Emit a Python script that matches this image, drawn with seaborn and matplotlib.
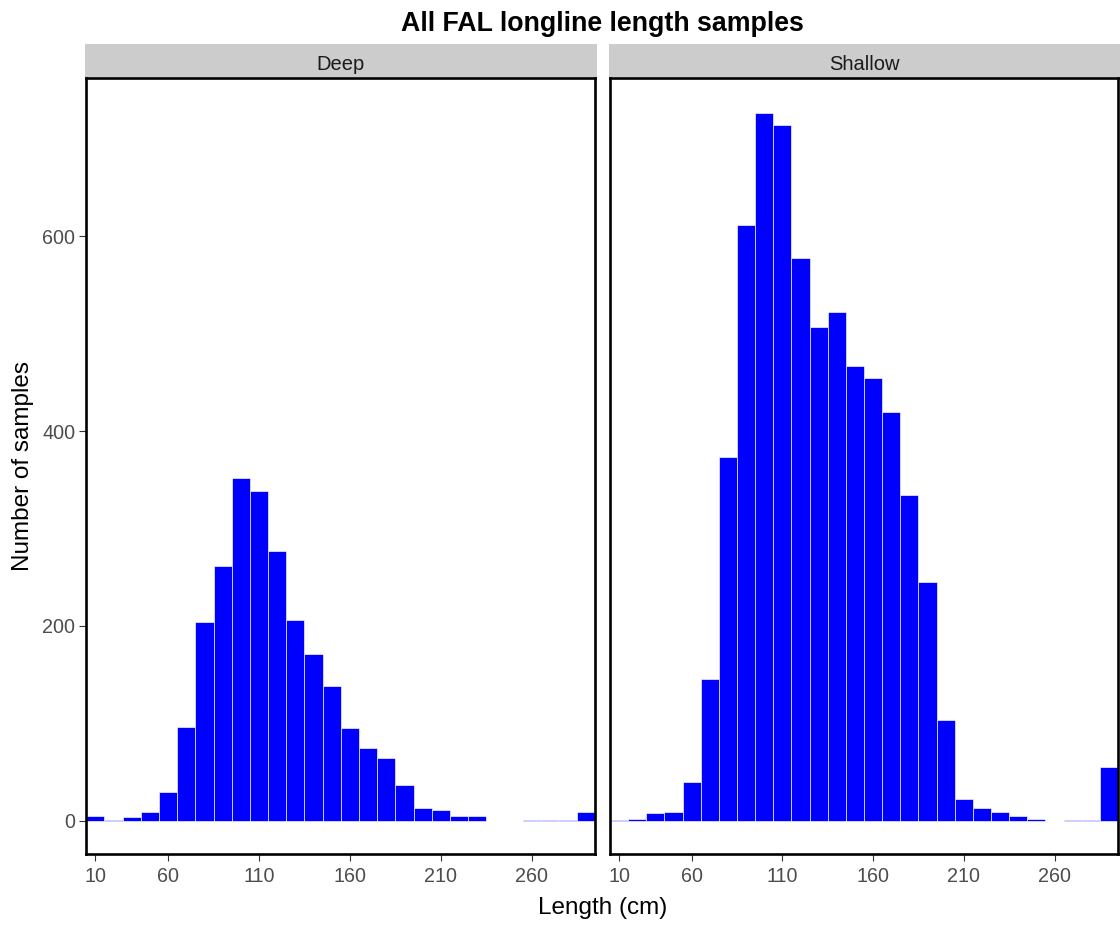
import numpy as np
import pandas as pd
import matplotlib
matplotlib.use("Agg")
import matplotlib.pyplot as plt
import seaborn as sns
from matplotlib.patches import Rectangle

# ---------------- data ----------------
bin_centers = [20, 30, 40, 50, 60, 70, 80, 90, 100, 110, 120, 130, 140, 150,
               160, 170, 180, 190, 200, 210, 220, 230, 240, 250, 260, 270, 280, 290]
deep_counts = [5, 1, 4, 9, 30, 96, 204, 261, 352, 338, 277, 206, 171, 138,
               95, 75, 64, 37, 13, 11, 5, 5, 0, 0, 1, 1, 1, 9]
shallow_counts = [1, 2, 8, 9, 40, 145, 373, 611, 726, 714, 578, 507, 522, 467,
                  454, 420, 334, 245, 103, 22, 13, 9, 5, 2, 0, 1, 1, 55]
panels = ["Deep", "Shallow"]
x_tick_labels = ["10", "60", "110", "160", "210", "260"]
x_tick_pos = [20, 60, 110, 160, 210, 260]
y_ticks = [0, 200, 400, 600]
title = "All FAL longline length samples"
xlabel = "Length (cm)"
ylabel = "Number of samples"

df = pd.DataFrame({
    "length": bin_centers * 2,
    "count": deep_counts + shallow_counts,
    "depth": ["Deep"] * len(bin_centers) + ["Shallow"] * len(bin_centers),
})
bin_width = 10
bin_lo = min(bin_centers) - bin_width / 2
bin_hi = max(bin_centers) + bin_width / 2

# ---------------- style ----------------
sns.set_theme(style="ticks")
plt.rcParams['font.family'] = ['Liberation Sans', 'DejaVu Sans']

W, H = 1120, 925
fig = plt.figure(figsize=(W / 100, H / 100), dpi=100)


def fx(px):
    return px / W


def fy(py):
    return 1 - py / H


top_px, bottom_px = 78, 854
axes_px = [(86.3, 595.3), (610.0, 1118.0)]
ymax = max(max(deep_counts), max(shallow_counts))
ylim = (-0.047 * ymax, 1.05 * ymax)
xlim = (bin_lo, bin_hi)

first_ax = None
for name, (x0, x1) in zip(panels, axes_px):
    ax = fig.add_axes([fx(x0), fy(bottom_px), fx(x1) - fx(x0), fy(top_px) - fy(bottom_px)],
                      sharey=first_ax)
    sub = df[df["depth"] == name]
    sns.histplot(data=sub, x="length", weights="count", binwidth=bin_width,
                 binrange=(bin_lo, bin_hi),
                 color="#0000FF", edgecolor="white", linewidth=0.45, alpha=1, ax=ax)
    ax.set_xlim(*xlim)
    ax.set_ylim(*ylim)
    ax.set_xlabel("")
    ax.set_ylabel("")
    ax.set_xticks(x_tick_pos)
    ax.set_xticklabels(x_tick_labels)
    ax.grid(False)
    for sp in ax.spines.values():
        sp.set_visible(True)
        sp.set_color("black")
        sp.set_linewidth(1.9)
    ax.tick_params(axis="both", direction="out", length=5, width=0.8,
                   color="#333333", labelsize=14.2, labelcolor="#4D4D4D")
    ax.tick_params(axis="x", pad=4.5, bottom=True)
    if first_ax is None:
        ax.set_yticks(y_ticks)
        ax.tick_params(axis="y", pad=3, left=True)
        first_ax = ax
    else:
        ax.tick_params(axis="y", left=False, labelleft=False)

    # facet strip
    fig.patches.append(Rectangle((fx(x0 - 1.5), fy(76.7)), fx(x1 - x0 + 3), fy(44.3) - fy(76.7),
                                 transform=fig.transFigure, facecolor="#CCCCCC",
                                 edgecolor="none", zorder=0))
    fig.text(fx((x0 + x1) / 2), fy(70.5), name, ha="center", va="baseline",
             fontsize=14.5, color="#1A1A1A")

center_x = (axes_px[0][0] + axes_px[1][1]) / 2
fig.text(fx(center_x), fy(30.7), title, ha="center", va="baseline",
         fontsize=19.3, fontweight="bold", color="black")
fig.text(fx(center_x), fy(914), xlabel, ha="center", va="baseline",
         fontsize=17.5, color="black")
fig.text(fx(23), fy((top_px + bottom_px) / 2), ylabel, ha="center", va="center",
         rotation=90, fontsize=17.5, color="black")

fig.savefig("out.png", dpi=100, facecolor="white")
